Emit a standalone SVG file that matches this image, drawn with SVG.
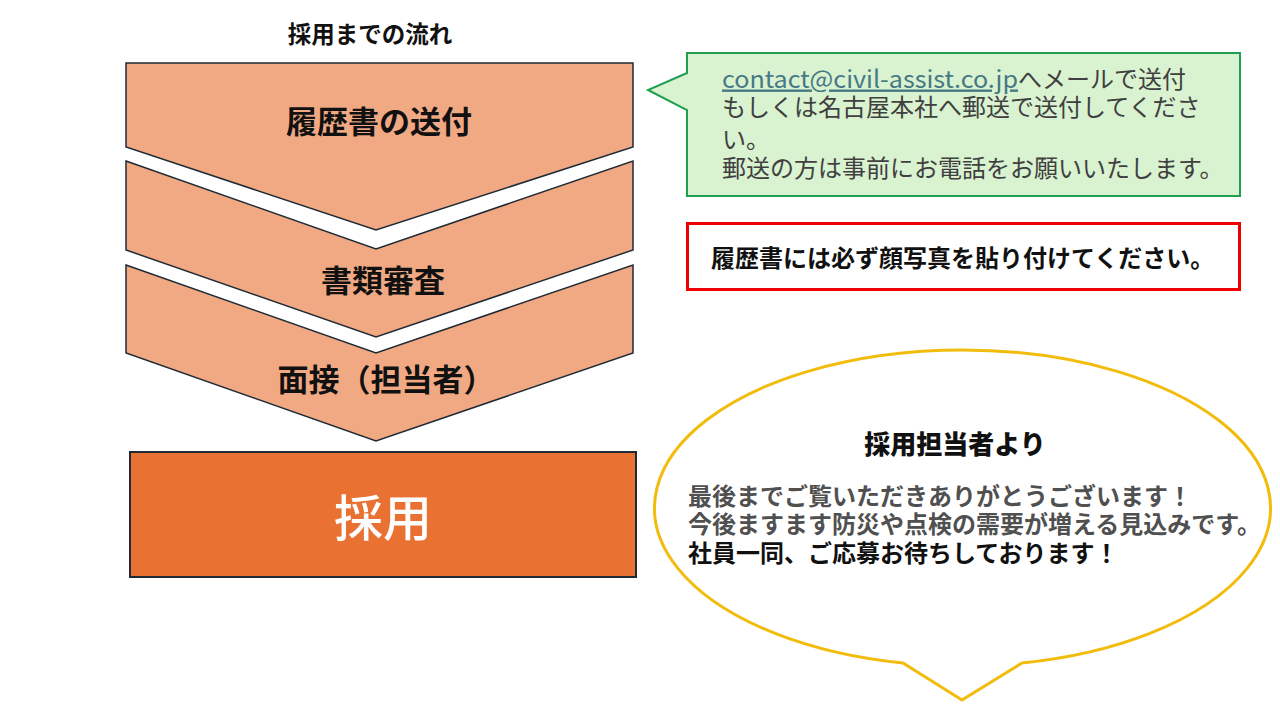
<svg xmlns="http://www.w3.org/2000/svg" width="1280" height="720" viewBox="0 0 1280 720">
<style>
text{font-family:"Noto Sans CJK JP","Noto Sans",sans-serif;dominant-baseline:central}
.chev{fill:#F1A983;stroke:#1F2A36;stroke-width:1.5;stroke-linejoin:miter}
.lbl{font-size:31px;font-weight:700;fill:#111;text-anchor:middle}
.g{font-size:24px;fill:#404040}
.b{font-size:24px;font-weight:700}
</style>
<rect width="1280" height="720" fill="#fff"/>
<g id="title"><text x="370" y="33" font-size="23.5" font-weight="700" fill="#111" text-anchor="middle">採用までの流れ</text></g>
<g id="step1">
<polygon class="chev" points="126,63 633,63 633,147 376,230 126,147"/>
<text class="lbl" x="379" y="119">履歴書の送付</text>
</g>
<g id="step2">
<polygon class="chev" points="126,161 376,249 633,161 633,250 376,337 126,250"/>
<text class="lbl" x="383" y="278">書類審査</text>
</g>
<g id="step3">
<polygon class="chev" points="126,265 376,353 633,265 633,353 376,441 126,353"/>
<text class="lbl" x="386" y="377">面接（担当者）</text>
</g>
<g id="hire">
<rect x="130" y="452" width="506" height="125" fill="#E97132" stroke="#1F2A36" stroke-width="2"/>
<text x="383" y="514" font-size="49" font-weight="500" fill="#fff" text-anchor="middle">採用</text>
</g>
<g id="note-mail">
<path d="M687,53 H1240 V196 H687 V110 L648,90 L687,73 Z" fill="#D9F2D0" stroke="#1FA050" stroke-width="2"/>
<text class="g" x="722" y="77" fill="#467886" text-decoration="underline" textLength="296" lengthAdjust="spacingAndGlyphs" style="fill:#467886">contact@civil-assist.co.jp</text>
<text class="g" x="1018" y="77">へメールで送付</text>
<text class="g" x="722" y="105">もしくは名古屋本社へ郵送で送付してくださ</text>
<text class="g" x="722" y="137">い。</text>
<text class="g" x="722" y="166">郵送の方は事前にお電話をお願いいたします。</text>
</g>
<g id="note-photo">
<rect x="687.5" y="223.5" width="552" height="66" fill="#fff" stroke="#EE0000" stroke-width="3"/>
<text class="b" x="711" y="256" fill="#111">履歴書には必ず顔写真を貼り付けてください。</text>
</g>
<g id="bubble">
<path d="M903,663 A308,158 0 1 1 1022,663 L962,700 Z" fill="#fff" stroke="#F2BC0C" stroke-width="3" stroke-linejoin="miter"/>
<text x="955" y="442" font-size="26" font-weight="900" fill="#111" text-anchor="middle">採用担当者より</text>
<text class="b" x="688" y="494" fill="#505050">最後までご覧いただきありがとうございます！</text>
<text class="b" x="688" y="522" fill="#505050">今後ますます防災や点検の需要が増える見込みです。</text>
<text class="b" x="688" y="551" fill="#111">社員一同、ご応募お待ちしております！</text>
</g>
<g id="connectors"></g>
</svg>
